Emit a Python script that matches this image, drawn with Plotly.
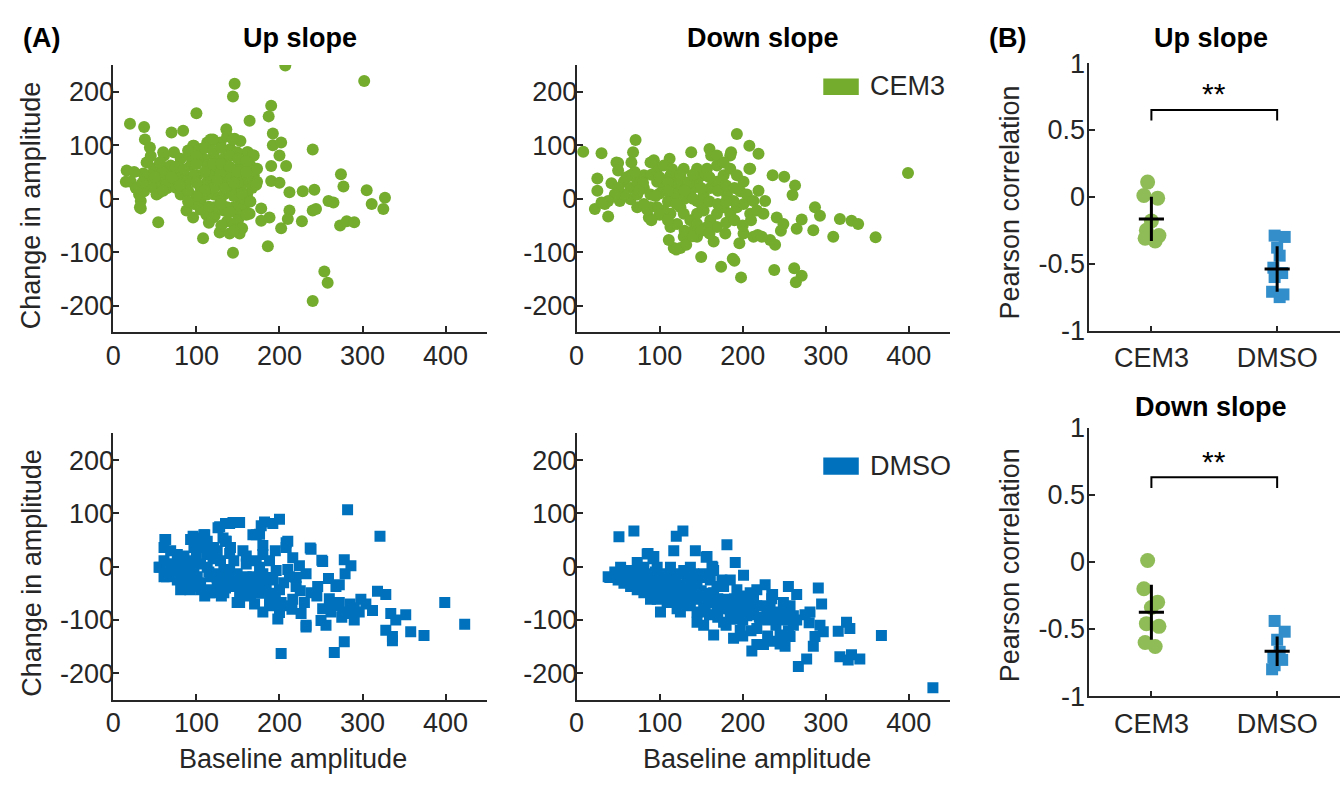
import plotly.graph_objects as go

# ---------------- data ----------------
up_cem3_pts = [
    [207,249],[302,220],[146,215],[144,191],[100,160],[20,140],[37,134],[190,174],[187,154],[164,146],
    [136,130],[70,124],[84,127],[192,122],[38,111],[44,96],[146,112],[240,92],[192,100],[202,105],
    [200,81],[190,61],[208,61],[16,53],[274,46],[277,23],[15,32],[190,33],[200,30],[212,12],
    [228,14],[242,17],[305,16],[327,2],[311,-10],[325,-19],[259,-4],[265,-7],[240,-22],[244,-19],
    [178,-18],[178,-41],[188,-35],[212,-22],[210,-38],[227,-42],[202,-55],[273,-50],[281,-42],[290,-44],
    [54,-44],[108,-74],[128,-63],[140,-65],[152,-65],[144,-101],[186,-89],[254,-136],[258,-157],[240,-191],
    [88,-22],[96,-35],[112,-30],[122,-32],[33,-18],[137,-42],[145,-47],[120,-35],
    [21,32],[27,20],[31,8],[33,-4],[41,32],[49,20],[55,11],[41,68],[49,56],[57,62],
    [65,44],[61,81],[73,87],[81,75],[77,32],[85,44],[97,99],[93,62],[101,44],[105,20],
    [113,32],[117,56],[121,81],[113,105],[129,105],[121,8],[133,8],[137,32],[145,44],[153,62],
    [161,87],[169,81],[161,32],[167,20],[161,8],[153,-4],[145,-16],[137,-16],[129,-4],[105,-4],
    [97,-10],[81,8],[109,75],[125,62],[133,75],[141,93],[149,87],[113,62],[97,44],[121,44],
    [129,32],[113,8],[137,56],[153,20],[145,20],[169,44],[165,62],[57,32],[65,20],[73,44],
    [81,56],[89,32],[69,62],[45,44],[37,14],[59,50],[157,-16],[149,-28],[133,-22],[121,-16],
    [153,41],[173,56],[105,93],[117,111],[137,117],[153,108],[91,81],[173,32],[159,-1],[60,87],
    [56,68],[40,68],[36,47],[28,20],[32,-16],[52,8],[64,26],[76,20],[164,-28],[172,26],
    [162,87],[168,81],[120,111],[144,111],[96,99],[125,25],[135,45],[145,5],[115,45],[150,30],
    [130,50],[140,15],[120,20],
    [90,90],[100,80],[110,95],[120,90],[130,95],[140,80],[150,75],[160,70],[100,65],[110,50],
    [120,65],[130,65],[140,60],[150,50],[160,50],[100,30],[110,15],[125,35],[135,20],[145,30],
    [155,10],[165,-5],[100,5],[90,15],[90,-5],[105,-20],[115,-15],[130,-10],[140,-25],[150,-40],
    [160,-30],[75,60],[85,55],[70,40],[80,25],[60,15],[45,25],[50,40],[35,30],[25,50],
    [45,80],[155,-55],[130,-50],[145,-60],[115,-45],
]

down_cem3_pts = [
    [8,88],[30,85],[25,38],[25,15],[42,29],[22,-19],[38,-33],[34,-10],[50,67],[52,-4],
    [71,110],[68,87],[66,68],[48,68],[50,53],[73,-16],[87,-35],[93,72],[112,75],[138,87],
    [160,93],[162,81],[193,121],[208,99],[219,84],[186,87],[208,56],[236,44],[250,41],[263,25],
    [260,7],[219,15],[227,-4],[287,-16],[293,-32],[271,-39],[265,-56],[246,-60],[285,-59],[309,-71],
    [317,-38],[331,-41],[339,-47],[360,-72],[399,48],[233,-77],[239,-86],[196,-83],[201,-65],[165,-80],
    [179,-65],[150,-109],[174,-127],[188,-112],[190,-116],[198,-147],[238,-133],[262,-130],[271,-144],[264,-156],
    [117,-92],[125,-92],[111,-77],[129,-71],[141,-59],[145,-71],[213,-71],[218,-68],[223,-71],[132,-86],
    [120,-95],
    [57,32],[65,20],[73,32],[81,20],[89,8],[97,32],[105,20],[113,8],[121,20],[129,32],
    [137,8],[145,-4],[153,8],[161,20],[169,32],[177,44],[185,56],[193,44],[201,32],[209,56],
    [185,81],[169,62],[153,44],[145,56],[129,56],[113,44],[97,56],[89,68],[105,62],[125,-16],
    [113,-28],[105,-22],[97,-16],[89,-16],[81,-10],[65,-1],[57,8],[73,8],[129,-28],[137,-40],
    [145,-28],[153,-22],[161,-40],[169,-28],[177,-16],[185,-28],[193,-16],[201,-10],[209,-28],[217,-22],
    [225,-28],[169,-53],[157,-53],[145,-47],[113,-53],[121,-47],[121,32],[113,26],[125,14],[145,32],
    [157,56],[169,81],[177,68],[81,44],[50,20],[46,8],[38,-4],[30,-7],[65,44],[181,8],
    [189,-4],[197,14],[205,8],[213,-4],[241,-35],[249,-47],[120,8],[130,0],[110,-5],[140,20],
    [60,40],[70,50],[80,30],[90,45],[100,40],[110,30],[115,55],[125,45],[135,30],[140,45],
    [150,20],[160,40],[170,15],[180,25],[190,20],[100,10],[110,15],[130,15],[140,0],[150,-10],
    [160,-5],[170,-10],[180,-5],[120,-10],[100,-30],[90,-40],[110,-40],[130,-60],[140,-70],[150,-60],
    [160,-65],[180,-45],[190,-40],[200,-50],[210,-40],[75,15],[85,-20],[95,5],
]

up_dmso_pts = [
    [282,107],[321,57],[200,89],[192,81],[182,84],[178,77],[168,60],[176,61],[135,81],[144,83],
    [152,83],[126,73],[135,48],[132,54],[101,54],[93,51],[109,60],[63,51],[237,35],[252,10],
    [278,13],[286,2],[279,-13],[259,-22],[268,-37],[272,-34],[298,-61],[304,-70],[312,-82],[296,-85],
    [290,-77],[318,-46],[328,-52],[334,-88],[340,-100],[352,-90],[328,-119],[336,-131],[336,-139],[358,-122],
    [374,-129],[399,-67],[423,-108],[202,-163],[266,-161],[278,-141],[232,-113],[198,-98],[200,-86],[226,-88],
    [250,-101],[256,-110],[262,-85],[252,-79],[264,-73],[272,-67],[276,-85],[284,-88],[230,-67],[238,-49],
    [246,-37],[232,-13],[224,2],[216,17],[208,36],[210,48],[212,-19],[220,-37],[216,-61],[208,-73],
    [202,-67],[200,-43],[192,-25],[196,-7],[188,11],[180,-13],[184,-37],[188,-55],[192,-67],[172,-25],
    [176,-43],[166,-37],[96,57],[110,60],[128,75],[140,81],[172,60],[136,48],[208,45],[238,33],
    [251,12],[56,-1],[64,-19],[92,-43],[116,-49],[152,-67],[188,-73],[232,-110],[62,51],
    [55,-1],[61,11],[65,-7],[73,5],[69,-13],[61,-19],[77,23],[81,-1],[85,-13],[77,-25],
    [89,-31],[81,-43],[93,11],[97,-7],[101,-19],[97,-37],[105,-43],[97,36],[113,23],[113,-1],
    [117,-19],[113,-43],[121,-49],[109,36],[129,11],[133,-7],[129,-25],[137,-31],[133,-49],[125,30],
    [145,11],[149,-13],[145,-37],[152,-55],[149,-67],[141,36],[160,5],[160,-19],[164,-43],[156,-37],
    [168,-19],[156,30],[176,-1],[180,-25],[172,11],[180,23],[121,-13],[105,5],[89,-7],[137,-13],
    [152,-25],[69,30],[61,36],[113,48],[121,36],[70,-5],[85,10],[125,-30],[140,-5],[160,-30],
    [65,5],[75,-15],[85,0],[95,-20],[105,-30],[115,-10],[125,-20],[135,-40],[145,-25],[155,-45],
    [165,-55],[175,-50],[185,-20],[195,-50],[85,20],[100,20],[120,15],[140,25],[160,20],[180,40],
    [195,30],[210,-5],[205,-30],[220,-20],[90,-25],[110,-55],[130,-55],[170,-70],[180,-85],[215,-80],
    [225,-45],[245,-55],[260,-60],[285,-70],[275,-95],[290,-100],
]

down_dmso_pts = [
    [51,56],[69,67],[73,8],[85,24],[93,19],[117,30],[120,57],[128,67],[143,30],[157,19],
    [163,1],[181,41],[191,8],[201,-16],[227,-34],[235,-52],[255,-37],[265,-52],[291,-40],[295,-70],
    [281,-85],[315,-121],[325,-104],[329,-116],[317,-169],[327,-175],[331,-165],[341,-173],[367,-129],[429,-227],
    [267,-187],[277,-173],[285,-149],[287,-131],[293,-110],[297,-122],[251,-149],[257,-131],[211,-158],[217,-146],
    [189,-134],[197,-119],[165,-128],[153,-110],[225,-146],[237,-140],[245,-128],[261,-110],[261,-92],[241,-98],
    [249,-79],[257,-73],[217,-116],[221,-98],[213,-85],[229,-85],[101,-85],[125,-85],[145,-104],[86,25],
    [92,15],[156,18],[164,-1],[236,-52],[40,-20],
    [38,-19],[46,-10],[53,-13],[50,-25],[57,-31],[65,-37],[61,-19],[69,-25],[73,-43],[81,-49],
    [77,-31],[85,-13],[89,-25],[93,-43],[97,-61],[105,-49],[109,-31],[105,-13],[113,-25],[121,-37],
    [117,-55],[125,-67],[129,-43],[133,-25],[141,-13],[145,-37],[149,-55],[153,-73],[161,-67],[165,-49],
    [169,-37],[161,-25],[177,-61],[181,-79],[185,-98],[193,-73],[197,-55],[201,-67],[209,-73],[213,-61],
    [217,-73],[225,-73],[233,-79],[241,-85],[249,-67],[145,-85],[169,-85],[177,-104],[193,-98],[205,-92],
    [97,-1],[113,-1],[129,-7],[81,-1],[65,-7],[53,-1],[121,-13],[153,-13],[137,-1],[165,-7],
    [185,-25],[193,-43],[209,-49],[217,-43],[177,-37],[145,-61],[137,-73],[121,-79],[109,-67],[89,-61],
    [130,-50],[150,-45],[170,-60],[185,-80],[100,-40],[115,-45],[160,-90],[200,-100],[140,-30],[120,-60],
    [60,-10],[70,-15],[80,-20],[90,-30],[100,-20],[110,-40],[120,-30],[130,-35],[140,-45],[150,-55],
    [160,-50],[170,-70],[180,-70],[190,-85],[200,-80],[210,-90],[220,-95],[230,-100],[240,-110],[250,-100],
    [255,-120],[245,-145],[230,-130],[210,-120],[200,-130],[180,-110],[170,-95],[155,-85],[135,-60],[125,-45],
    [100,-55],[110,-15],[95,-10],[75,-5],[150,-20],[175,-25],[190,-60],[235,-60],[250,-85],[265,-100],
    [275,-90],[280,-105],
]

groups = ["CEM3", "DMSO"]

# Pearson correlations per recording (panel B)
corr_up_cem3 = [0.11, 0.01, -0.01, -0.18, -0.25, -0.29, -0.31, -0.33]
corr_up_dmso = [-0.29, -0.30, -0.38, -0.44, -0.53, -0.57, -0.60, -0.71, -0.73, -0.75]
corr_down_cem3 = [0.01, -0.20, -0.30, -0.34, -0.46, -0.48, -0.60, -0.63]
corr_down_dmso = [-0.44, -0.52, -0.58, -0.67, -0.71, -0.73, -0.77, -0.80]
jit_cem3 = [-0.03, -0.06, 0.05, 0.0, -0.04, 0.06, -0.05, 0.03]
jit_dmso = [-0.02, 0.06, 0.0, 0.02, -0.03, 0.04, -0.02, -0.04, 0.05, 0.02]

up_mean = [-0.165, -0.54]
up_sd = [0.165, 0.17]
down_mean = [-0.375, -0.665]
down_sd = [0.205, 0.11]

bracket_up = [0.57, 0.65]
bracket_down = [0.55, 0.63]
star_up = 0.77
star_down = 0.75

x_ticks = [0, 100, 200, 300, 400]
y_ticks = [-200, -100, 0, 100, 200]
y_ticklabels = ["-200", "-100", "0", "100", "200"]
r_ticks = [-1, -0.5, 0, 0.5, 1]
r_ticklabels = ["-1", "-0.5", "0", "0.5", "1"]

GREEN = "#74AC2E"
BLUE = "#0072BD"
INK = "#262626"
FONT = "Liberation Sans, Arial, sans-serif"
FS = 27

W, H = 1343, 790


def px(x):
    return x / W


def py(y):
    return 1 - y / H


fig = go.Figure()


def unzip(pts):
    return [p[0] for p in pts], [p[1] for p in pts]


scatter_specs = [
    (up_cem3_pts, "x", "y", GREEN, "circle", 12),
    (down_cem3_pts, "x2", "y2", GREEN, "circle", 12),
    (up_dmso_pts, "x3", "y3", BLUE, "square", 11),
    (down_dmso_pts, "x4", "y4", BLUE, "square", 11),
]
for pts, xa, ya, col, sym, sz in scatter_specs:
    xs, ys = unzip(pts)
    fig.add_trace(go.Scatter(x=xs, y=ys, mode="markers", xaxis=xa, yaxis=ya,
                             marker=dict(color=col, size=sz, symbol=sym, line=dict(width=0)),
                             showlegend=False, hoverinfo="skip"))

# panel B
for (c_vals, d_vals, means, sds, xa, ya) in [
    (corr_up_cem3, corr_up_dmso, up_mean, up_sd, "x5", "y5"),
    (corr_down_cem3, corr_down_dmso, down_mean, down_sd, "x6", "y6"),
]:
    fig.add_trace(go.Scatter(x=[1 + j for j in jit_cem3[:len(c_vals)]], y=c_vals, mode="markers",
                             xaxis=xa, yaxis=ya, opacity=0.8,
                             marker=dict(color=GREEN, size=15, symbol="circle", line=dict(width=0)),
                             showlegend=False, hoverinfo="skip"))
    fig.add_trace(go.Scatter(x=[2 + j for j in jit_dmso[:len(d_vals)]], y=d_vals, mode="markers",
                             xaxis=xa, yaxis=ya, opacity=0.8,
                             marker=dict(color=BLUE, size=12, symbol="square", line=dict(width=0)),
                             showlegend=False, hoverinfo="skip"))
    fig.add_trace(go.Scatter(x=[1, 2], y=means, mode="markers", xaxis=xa, yaxis=ya,
                             marker=dict(color="black", size=1),
                             error_y=dict(type="data", array=sds, color="black", thickness=3, width=0),
                             error_x=dict(type="constant", value=0.1, color="black", thickness=3, width=0),
                             showlegend=False, hoverinfo="skip"))

# brackets
for (br, xa, ya) in [(bracket_up, "x5", "y5"), (bracket_down, "x6", "y6")]:
    fig.add_trace(go.Scatter(x=[1, 1, 2, 2], y=[br[0], br[1], br[1], br[0]], mode="lines",
                             xaxis=xa, yaxis=ya, line=dict(color="black", width=2),
                             showlegend=False, hoverinfo="skip"))

# axes layout
ax_common = dict(showline=True, linecolor=INK, linewidth=2, ticks="inside", ticklen=6,
                 tickwidth=2, tickcolor=INK, showgrid=False, zeroline=False, mirror=False,
                 tickfont=dict(family=FONT, size=FS, color=INK))

top_y = [py(330), py(52)]
bot_y = [py(712), py(435)]
left_x = [px(106), px(482)]
mid_x = [px(572), px(948)]
right_x = [px(1087), px(1340)]

layout = dict(width=W, height=H, margin=dict(l=0, r=0, t=0, b=0),
              paper_bgcolor="white", plot_bgcolor="white", showlegend=False)

scat_axes = [("", "", left_x, top_y), ("2", "2", mid_x, top_y),
             ("3", "3", left_x, bot_y), ("4", "4", mid_x, bot_y)]
for xs, ys, xd, yd in scat_axes:
    layout["xaxis" + xs] = dict(ax_common, domain=xd, range=[0, 450], tickvals=x_ticks,
                                anchor="y" + ys, ticklabelstandoff=-2)
    layout["yaxis" + ys] = dict(ax_common, domain=yd, range=[-250, 250], tickvals=y_ticks,
                                ticktext=y_ticklabels, anchor="x" + xs, ticklabelstandoff=-8)

for n, yd in [("5", [py(328), py(50)]), ("6", [py(708), py(429)])]:
    layout["xaxis" + n] = dict(ax_common, domain=right_x, range=[0.5, 2.5], tickvals=[1, 2],
                               ticktext=groups, anchor="y" + n, ticklabelstandoff=2, ticklen=5)
    layout["yaxis" + n] = dict(ax_common, domain=yd, range=[-1, 1], tickvals=r_ticks,
                               ticktext=r_ticklabels, anchor="x" + n, ticklabelstandoff=-4)

fig.update_layout(**layout)

ann = []


def text(x, y, s, size=FS, bold=False, angle=0, xanchor="center"):
    ann.append(dict(x=px(x), y=py(y), xref="paper", yref="paper", text=("<b>%s</b>" % s) if bold else s,
                    showarrow=False, textangle=angle, xanchor=xanchor, yanchor="middle",
                    font=dict(family=FONT, size=size, color="black" if bold else INK)))


text(13, 24, "(A)", bold=True, xanchor="left")
text(985, 24, "(B)", bold=True, xanchor="left")
text(294, 24, "Up slope", bold=True)
text(760, 24, "Down slope", bold=True)
text(1210, 24, "Up slope", bold=True)
text(1210, 407, "Down slope", bold=True)
text(24, 198, "Change in amplitude", angle=-90)
text(24, 580, "Change in amplitude", angle=-90)
text(1008, 195, "Pearson correlation", angle=-90)
text(1008, 572, "Pearson correlation", angle=-90)
text(287, 773, "Baseline amplitude")
text(753, 773, "Baseline amplitude")

for ya, yv in [("y5", star_up), ("y6", star_down)]:
    ann.append(dict(x=1.5, y=yv, xref=ya.replace("y", "x"), yref=ya, text="**", showarrow=False,
                    font=dict(family=FONT, size=30, color="black"), yanchor="middle"))

# legends
shapes = []
for xa, ya, col, label, y0, y1, ty in [
    ("x2", "y2", GREEN, "CEM3", 0.888, 0.95, 0.92),
    ("x4", "y4", BLUE, "DMSO", 0.845, 0.91, 0.877),
]:
    shapes.append(dict(type="rect", xref=xa + " domain", yref=ya + " domain", x0=0.66, x1=0.755,
                       y0=y0, y1=y1, fillcolor=col, line=dict(width=0)))
    ann.append(dict(x=0.78, y=ty, xref=xa + " domain", yref=ya + " domain", text=label,
                    showarrow=False, xanchor="left", yanchor="middle",
                    font=dict(family=FONT, size=FS, color=INK)))

fig.update_layout(annotations=ann, shapes=shapes)
fig.write_html("out.html")
